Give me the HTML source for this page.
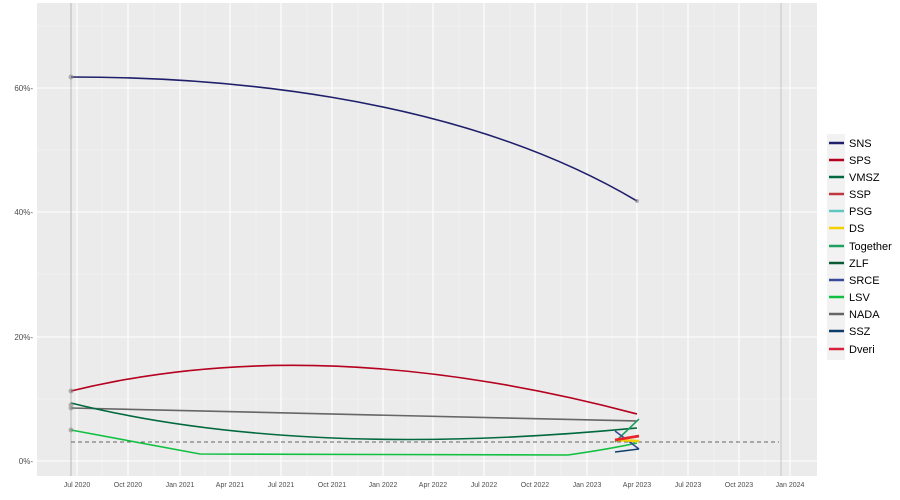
<!DOCTYPE html><html><head><style>body{margin:0;background:#fff}svg{display:block;font-family:"Liberation Sans",sans-serif}</style></head><body>
<svg width="900" height="500" viewBox="0 0 900 500">
<rect x="37" y="3" width="780" height="473" fill="#ebebeb"/>
<g stroke="#f5f5f5" stroke-width="0.6">
<line x1="37" x2="817" y1="399" y2="399"/><line x1="37" x2="817" y1="274" y2="274"/><line x1="37" x2="817" y1="150" y2="150"/><line x1="37" x2="817" y1="26" y2="26"/>
<line x1="102" x2="102" y1="3" y2="476"/><line x1="154" x2="154" y1="3" y2="476"/><line x1="205" x2="205" y1="3" y2="476"/><line x1="256" x2="256" y1="3" y2="476"/><line x1="307" x2="307" y1="3" y2="476"/><line x1="358" x2="358" y1="3" y2="476"/><line x1="408" x2="408" y1="3" y2="476"/><line x1="459" x2="459" y1="3" y2="476"/><line x1="510" x2="510" y1="3" y2="476"/><line x1="561" x2="561" y1="3" y2="476"/><line x1="612" x2="612" y1="3" y2="476"/><line x1="663" x2="663" y1="3" y2="476"/><line x1="714" x2="714" y1="3" y2="476"/><line x1="765" x2="765" y1="3" y2="476"/>
</g>
<g stroke="#fff" stroke-width="1.1">
<line x1="37" x2="817" y1="461" y2="461"/><line x1="37" x2="817" y1="337" y2="337"/><line x1="37" x2="817" y1="212" y2="212"/><line x1="37" x2="817" y1="88" y2="88"/>
<line x1="77" x2="77" y1="3" y2="476"/><line x1="128" x2="128" y1="3" y2="476"/><line x1="180" x2="180" y1="3" y2="476"/><line x1="230" x2="230" y1="3" y2="476"/><line x1="281" x2="281" y1="3" y2="476"/><line x1="332" x2="332" y1="3" y2="476"/><line x1="383" x2="383" y1="3" y2="476"/><line x1="433" x2="433" y1="3" y2="476"/><line x1="484" x2="484" y1="3" y2="476"/><line x1="535" x2="535" y1="3" y2="476"/><line x1="587" x2="587" y1="3" y2="476"/><line x1="637" x2="637" y1="3" y2="476"/><line x1="688" x2="688" y1="3" y2="476"/><line x1="739" x2="739" y1="3" y2="476"/><line x1="790" x2="790" y1="3" y2="476"/>
</g>
<line x1="71" x2="71" y1="3" y2="476" stroke="#aaa" stroke-width="0.8"/>
<line x1="781" x2="781" y1="3" y2="476" stroke="#bbb" stroke-width="0.8"/>
<line x1="71" x2="779" y1="442" y2="442" stroke="#666" stroke-dasharray="4,3"/>
<g fill="none" stroke-width="1.6">
<path d="M71 77 C 200 77 450 90 637 201" stroke="#1f1f6b"/>
<path d="M71 391 Q 320 330 637 414" stroke="#b5001f"/>
<path d="M71 408 L637 421" stroke="#666"/>
<path d="M71 403 Q 300 460 637 428" stroke="#00693e"/>
<path d="M71 430 L200 454 L568 455 Q 610 449 637 443" stroke="#11c040"/>
<path d="M615 442 L639 419" stroke="#1fa060"/>
<path d="M615 431 L639 449" stroke="#3a4a9a"/>
<path d="M615 452 L639 449" stroke="#0e3d6b"/>
<path d="M615 440 L639 441" stroke="#f5d000" stroke-width="2.5"/>
<path d="M615 440 L639 436" stroke="#e8232a" stroke-width="2.8"/>
</g>
<g fill="#888" opacity="0.6"><circle cx="71" cy="77" r="2.5"/><circle cx="71" cy="391" r="2.5"/><circle cx="71" cy="405" r="2.5"/><circle cx="71" cy="408" r="2.5"/><circle cx="71" cy="430" r="2.5"/><circle cx="637" cy="201" r="2"/></g>
<g font-size="8" fill="#4d4d4d" text-anchor="end"><text x="33" y="464">0%-</text><text x="33" y="340">20%-</text><text x="33" y="215">40%-</text><text x="33" y="91">60%-</text></g>
<g font-size="7" fill="#4d4d4d" text-anchor="middle">
<text x="77" y="487">Jul 2020</text><text x="128" y="487">Oct 2020</text><text x="180" y="487">Jan 2021</text><text x="230" y="487">Apr 2021</text><text x="281" y="487">Jul 2021</text><text x="332" y="487">Oct 2021</text><text x="383" y="487">Jan 2022</text><text x="433" y="487">Apr 2022</text><text x="484" y="487">Jul 2022</text><text x="535" y="487">Oct 2022</text><text x="587" y="487">Jan 2023</text><text x="637" y="487">Apr 2023</text><text x="688" y="487">Jul 2023</text><text x="739" y="487">Oct 2023</text><text x="790" y="487">Jan 2024</text>
</g>
<rect x="827" y="134" width="18" height="226" fill="#f2f2f2"/>
<g stroke-width="2.5">
<line x1="829" x2="844" y1="143" y2="143" stroke="#1f1f6b"/><line x1="829" x2="844" y1="160" y2="160" stroke="#b5001f"/><line x1="829" x2="844" y1="177" y2="177" stroke="#00693e"/><line x1="829" x2="844" y1="194" y2="194" stroke="#c0393f"/><line x1="829" x2="844" y1="211" y2="211" stroke="#5ec8c0"/><line x1="829" x2="844" y1="228" y2="228" stroke="#f5d000"/><line x1="829" x2="844" y1="246" y2="246" stroke="#1fa060"/><line x1="829" x2="844" y1="263" y2="263" stroke="#0a5a36"/><line x1="829" x2="844" y1="280" y2="280" stroke="#3a4a9a"/><line x1="829" x2="844" y1="297" y2="297" stroke="#11c040"/><line x1="829" x2="844" y1="314" y2="314" stroke="#666"/><line x1="829" x2="844" y1="331" y2="331" stroke="#0e3d6b"/><line x1="829" x2="844" y1="349" y2="349" stroke="#d8213a"/>
</g>
<g font-size="11" fill="#000"><text x="849" y="147">SNS</text><text x="849" y="164">SPS</text><text x="849" y="181">VMSZ</text><text x="849" y="198">SSP</text><text x="849" y="215">PSG</text><text x="849" y="232">DS</text><text x="849" y="250">Together</text><text x="849" y="267">ZLF</text><text x="849" y="284">SRCE</text><text x="849" y="301">LSV</text><text x="849" y="318">NADA</text><text x="849" y="335">SSZ</text><text x="849" y="353">Dveri</text></g>
</svg></body></html>
